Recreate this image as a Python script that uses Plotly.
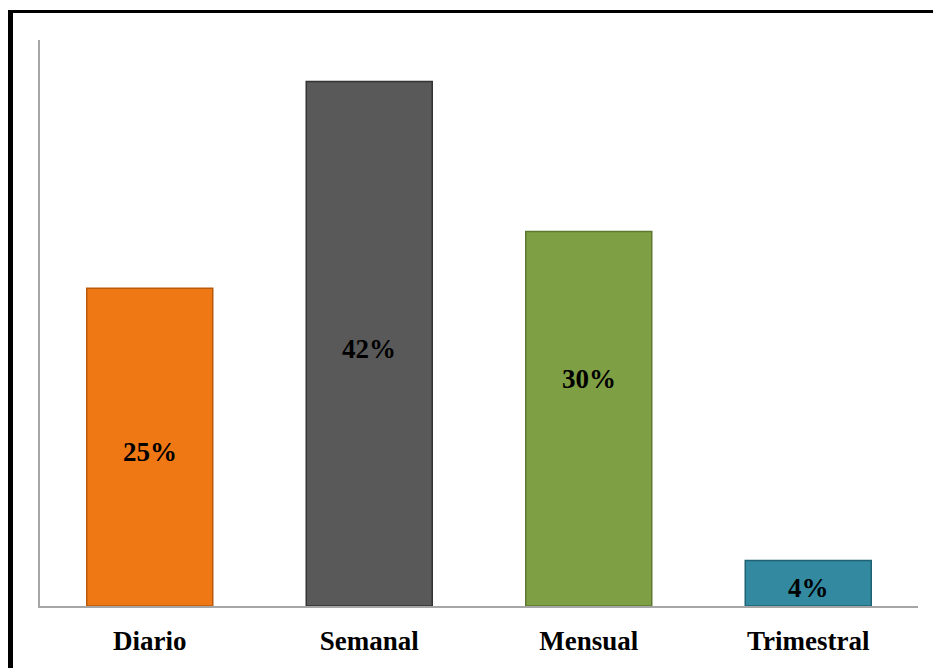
import plotly.graph_objects as go

categories = ["Diario", "Semanal", "Mensual", "Trimestral"]
values = [25.2, 41.6, 29.7, 3.6]
labels = ["25%", "42%", "30%", "4%"]
colors = ["#F07814", "#595959", "#7F9F45", "#3289A0"]
edge_colors = ["#B85A0C", "#333333", "#5E7832", "#1F6274"]
label_shift_px = [-5, -5, 40, -5]

W, H = 933, 668
L, R, T, B = 40, 15, 40, 60
pw, ph = W - L - R, H - T - B

def px_x(x):
    return (x - L) / pw

def px_y(y):
    return (H - B - y) / ph

fig = go.Figure()
fig.add_trace(go.Bar(
    x=categories, y=values,
    marker=dict(color=colors, line=dict(color=edge_colors, width=1.5)),
    hoverinfo="skip",
))

for cat, v, lab, s in zip(categories, values, labels, label_shift_px):
    fig.add_annotation(x=cat, y=v / 2, text=lab, showarrow=False,
                       yanchor="middle", yshift=s,
                       font=dict(family="Liberation Serif", size=27, color="black", weight="bold"))

fig.update_layout(
    width=W, height=H,
    margin=dict(l=L, r=R, t=T, b=B),
    paper_bgcolor="white", plot_bgcolor="white",
    showlegend=False, bargap=0.426,
    xaxis=dict(showline=True, linecolor="#A6A6A6", linewidth=2, ticks="",
               showgrid=False, ticklabelstandoff=10,
               tickfont=dict(family="Liberation Serif", size=27, color="black", weight="bold")),
    yaxis=dict(range=[0, 44.9], showline=True, linecolor="#A6A6A6", linewidth=2,
               showgrid=False, showticklabels=False, ticks="", zeroline=False),
)

# outer frame (left and top border lines)
fig.add_shape(type="line", xref="paper", yref="paper",
              x0=px_x(10.5), x1=px_x(10.5), y0=px_y(H + 5), y1=px_y(10),
              line=dict(color="black", width=5))
fig.add_shape(type="line", xref="paper", yref="paper",
              x0=px_x(8), x1=px_x(W + 5), y0=px_y(11.5), y1=px_y(11.5),
              line=dict(color="black", width=3))

fig.write_html("out.html", config={"displayModeBar": False},
               post_script="document.body.style.margin='0';document.body.style.overflow='hidden';")
